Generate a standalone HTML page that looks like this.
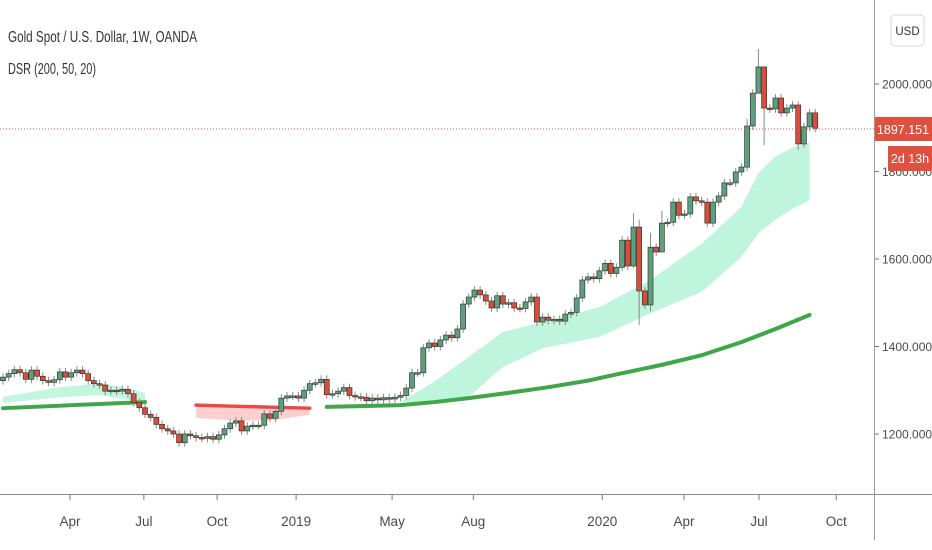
<!DOCTYPE html>
<html><head><meta charset="utf-8"><style>
body{margin:0;background:#fff;width:932px;height:550px;overflow:hidden;font-family:"Liberation Sans",sans-serif}
svg{display:block}
</style></head><body>
<svg id="chart" width="932" height="550" xmlns="http://www.w3.org/2000/svg">
<g id="bands"></g>
<g id="candles"></g>
<line x1="0" x2="874" y1="129" y2="129" stroke="#e0574a" stroke-width="1" stroke-dasharray="1,2"/>
<line x1="0" x2="932" y1="494.5" y2="494.5" stroke="#8a8a8a" stroke-width="1"/>
<line x1="874.5" x2="874.5" y1="0" y2="540" stroke="#9a9a9a" stroke-width="1"/>
<g id="yaxis"></g>
<g id="xaxis"></g>
<rect x="875" y="117" width="57" height="24" fill="#e0503f"/>
<text x="903" y="134" fill="#fff" font-size="12.5" text-anchor="middle">1897.151</text>
<rect x="888" y="146" width="44" height="25" fill="#e0503f"/>
<text x="910" y="163" fill="#fff" font-size="12.5" text-anchor="middle">2d 13h</text>
<rect x="891" y="15" width="33" height="31" rx="4" fill="#fff" stroke="#d8d8d8"/>
<text x="907.5" y="35" fill="#333" font-size="11.5" text-anchor="middle">USD</text>
<text x="8" y="42" fill="#333" font-size="15.5" textLength="189" lengthAdjust="spacingAndGlyphs">Gold Spot / U.S. Dollar, 1W, OANDA</text>
<text x="8" y="74" fill="#333" font-size="15.5" textLength="88" lengthAdjust="spacingAndGlyphs">DSR (200, 50, 20)</text>
</svg>
<script>
const closes=[1330,1338,1347,1340,1325,1346,1332,1322,1318,1324,1342,1330,1340,1346,1338,1322,1315,1312,1298,1300,1298,1302,1292,1272,1260,1245,1238,1222,1212,1207,1200,1180,1200,1196,1192,1190,1194,1188,1198,1212,1225,1230,1207,1218,1220,1220,1246,1236,1252,1282,1287,1287,1282,1300,1315,1317,1325,1290,1292,1298,1306,1288,1285,1284,1276,1282,1278,1283,1280,1284,1288,1305,1340,1340,1397,1408,1400,1415,1426,1420,1440,1497,1513,1529,1518,1504,1488,1516,1497,1500,1488,1487,1502,1513,1456,1467,1460,1462,1458,1474,1478,1511,1552,1559,1555,1573,1590,1567,1581,1643,1584,1673,1527,1495,1627,1616,1682,1684,1730,1700,1703,1742,1733,1730,1682,1730,1744,1774,1774,1799,1810,1904,1979,2039,1945,1943,1968,1934,1945,1952,1863,1902,1934,1899];
const firstOpen=1322;
const bigWickIdx=[111,112,114,116,131,133,134,140];
const bigWickHigh=[1705,1690,1660,1710,1920,2080,2000,1960];
const bigWickLow=[1580,1449,1480,1660,1800,2000,1860,1850];
const band1Idx=[0,10,17,22,25];
const band1Up=[1285,1307,1316,1305,1294];
const band1Lo=[1271,1284,1289,1278,1273];
const ma1Idx=[0,25];
const ma1Val=[1259,1273];
const band2Idx=[70,76,82,88,95,105,114,123,130,133,136,139,142];
const band2Up=[1273,1320,1376,1433,1456,1490,1552,1635,1719,1796,1835,1855,1867];
const band2Lo=[1273,1275,1285,1353,1396,1422,1476,1525,1605,1659,1690,1715,1735];
const ma2Idx=[57,70,76,82,89,96,103,109,116,123,130,136,142];
const ma2Val=[1262,1266,1273,1282,1294,1307,1322,1339,1358,1380,1410,1440,1472];
const redIdx=[34,42,48,54];
const redLine=[1266,1263,1261,1259];
const redLo=[1237,1230,1232,1244];
const yTicks=[2000,1800,1600,1400,1200];
const yTickLabels=["2000.000","1800.000","1600.000","1400.000","1200.000"];
const xTickIdx=[11.8,24.8,37.7,51.6,68.5,82.8,105.5,119.9,133.1,146.7];
const xTickLabels=["Apr","Jul","Oct","2019","May","Aug","2020","Apr","Jul","Oct"];

const NS="http://www.w3.org/2000/svg";
function X(i){return 3+i*5.68;}
function Y(p){return 84+(2000-p)*0.4375;}
function mk(tag,attrs,parent){const e=document.createElementNS(NS,tag);for(const k in attrs)e.setAttribute(k,attrs[k]);parent.appendChild(e);return e;}
const bands=document.getElementById('bands');
function bandPoly(idx,up,lo,fill,name){
  let pts=idx.map((i,k)=>X(i)+','+Y(up[k]));
  for(let k=idx.length-1;k>=0;k--)pts.push(X(idx[k])+','+Y(lo[k]));
  const p=mk('polygon',{points:pts.join(' '),fill:fill,'stroke-linejoin':'round'},bands);
  
  
}
function line(idx,vals,color,w,name){
  const p=mk('polyline',{points:idx.map((i,k)=>X(i)+','+Y(vals[k])).join(' '),fill:'none',stroke:color,'stroke-width':w,'stroke-linecap':'round','stroke-linejoin':'round'},bands);
  
  
}
bandPoly(band1Idx,band1Up,band1Lo,'#c3f5df','band-2018');
bandPoly(band2Idx,band2Up,band2Lo,'#bff5dc','band-2019-2020');
bandPoly(redIdx,redLine,redLo,'#fccfd0','bear-band');
line(ma1Idx,ma1Val,'#3fa748',4,'ma-line-2018');
line(ma2Idx,ma2Val,'#3fa748',4,'ma-line-2019-2020');
line(redIdx,redLine,'#ea4a44',3.5,'bear-line');

const cg=document.getElementById('candles');
for(let i=0;i<closes.length;i++){
  const o=i===0?firstOpen:closes[i-1], c=closes[i];
  let hi=Math.max(o,c)+9, lo=Math.min(o,c)-9;
  const bi=bigWickIdx.indexOf(i);
  if(bi>=0){hi=bigWickHigh[bi];lo=bigWickLow[bi];}
  const up=c>=o, x=X(i);
  const w=mk('line',{x1:x,x2:x,y1:Y(hi),y2:Y(lo),stroke:'#8a8a8a','stroke-width':1},cg);
  
  
  const top=Y(Math.max(o,c)), h=Math.max(1.5,Y(Math.min(o,c))-top);
  const r=mk('rect',{x:x-2.5,y:top,width:5,height:h,fill:up?'#5f9f7e':'#dd4b3b',stroke:'#2e3b34','stroke-width':0.7},cg);
  
  
}
const ya=document.getElementById('yaxis');
yTicks.forEach((p,k)=>{
  const t=mk('line',{x1:875,x2:879,y1:Y(p),y2:Y(p),stroke:'#777'},ya);
  
  
  const l=mk('text',{x:882,y:Y(p)+4.5,'font-size':12,fill:'#4a4a4a'},ya);
  l.textContent=yTickLabels[k];
  
  
});
const xa=document.getElementById('xaxis');
xTickIdx.forEach((i,k)=>{
  const x=X(i);
  const t=mk('line',{x1:x,x2:x,y1:495,y2:500,stroke:'#777'},xa);
  
  
  const l=mk('text',{x:x,y:526,'font-size':13.5,fill:'#4a4a4a','text-anchor':'middle'},xa);
  l.textContent=xTickLabels[k];
  
  
});
</script>
</body></html>
